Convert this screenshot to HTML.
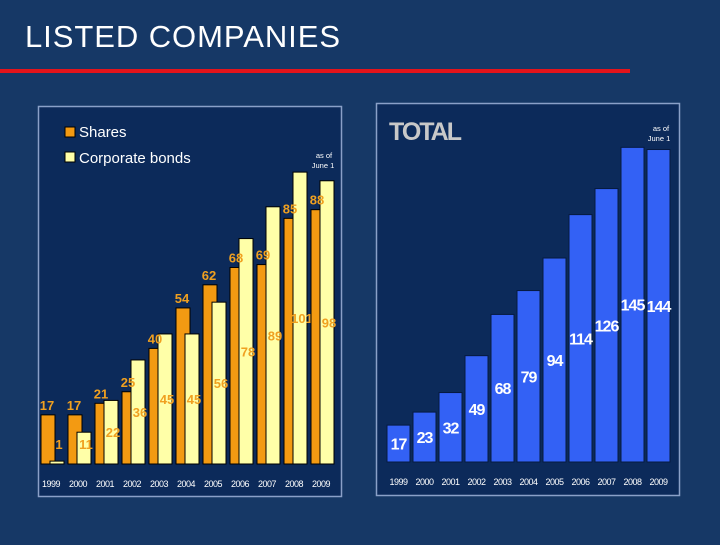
<!DOCTYPE html>
<html><head><meta charset="utf-8"><style>
body{margin:0;background:#163866;width:720px;height:540px;overflow:hidden;font-family:"Liberation Sans",sans-serif}
</style></head><body>
<svg width="720" height="540">
<rect width="720" height="540" fill="#163866"/>
<text x="25" y="47" fill="#fff" font-size="31" textLength="315" font-family="Liberation Sans">LISTED COMPANIES</text>
<rect x="0" y="69" width="630" height="4" fill="#e3141b"/>
<rect x="38.5" y="106.5" width="303" height="390" fill="#0c2a5a" stroke="#8aa0c8" stroke-width="1.5"/>
<rect x="376.5" y="103.5" width="303" height="392" fill="#0c2a5a" stroke="#8aa0c8" stroke-width="1.5"/>
<g id="left"></g>
<g id="right"></g>
<rect x="65" y="127" width="10" height="10" fill="#f39a12" stroke="#000"/>
<text x="79" y="137" fill="#fff" font-size="15">Shares</text>
<rect x="65" y="152" width="10" height="10" fill="#ffffa8" stroke="#000"/>
<text x="79" y="163" fill="#fff" font-size="15">Corporate bonds</text>
<text x="324" y="158" fill="#fff" font-size="7.5" text-anchor="middle"><tspan x="324">as of</tspan><tspan x="323" dy="10">June 1</tspan></text>
<text x="389" y="140" fill="#c8c8c8" font-size="25" font-weight="bold" letter-spacing="-2">TOTAL</text>
<text x="661" y="131" fill="#fff" font-size="7.5" text-anchor="middle"><tspan x="661">as of</tspan><tspan x="659" dy="10">June 1</tspan></text>
</svg>
<script>
const years=['1999','2000','2001','2002','2003','2004','2005','2006','2007','2008','2009'];
const shares=[17,17,21,25,40,54,62,68,69,85,88];
const bonds=[1,11,22,36,45,45,56,78,89,101,98];
const totals=[17,23,32,49,68,79,94,114,126,145,144];
const NS='http://www.w3.org/2000/svg';
function mk(p,t,a){const e=document.createElementNS(NS,t);for(const k in a)e.setAttribute(k,a[k]);p.appendChild(e);return e;}
const L=document.getElementById('left'),R=document.getElementById('right');
const lBase=464,lK=2.89,lx=i=>41+27*i;
const rBase=462,rK=2.17,rx=i=>387+26*i;
years.forEach((y,i)=>{
 const hs=shares[i]*lK;
 const s=mk(L,'rect',{x:lx(i),y:lBase-hs,width:14,height:hs,fill:'#f39a12',stroke:'#000','stroke-width':1});
 
 
 const hb=bonds[i]*lK;
 const b=mk(L,'rect',{x:lx(i)+9,y:lBase-hb,width:14,height:hb,fill:'#ffffa8',stroke:'#000','stroke-width':1});
 
 
 const ts=mk(L,'text',{x:lx(i)+6,y:lBase-hs-5,fill:'#f0a020','font-size':13,'font-weight':'bold','text-anchor':'middle'});
 ts.textContent=shares[i];
 
 
 const tb=mk(L,'text',{x:lx(i)+18,y:lBase-Math.max(hb*0.5,20)+5,fill:'#f0a020','font-size':13,'font-weight':'bold','text-anchor':'middle'});
 tb.textContent=bonds[i];
 
 
 const ty=mk(L,'text',{x:lx(i)+10,y:487,fill:'#fff','font-size':9,'text-anchor':'middle','letter-spacing':'-0.5'});
 ty.textContent=y;
 
 
 const ht=totals[i]*rK;
 const r=mk(R,'rect',{x:rx(i),y:rBase-ht,width:23,height:ht,fill:'#3361f5',stroke:'#061a40','stroke-width':1});
 
 
 const tt=mk(R,'text',{x:rx(i)+11.5,y:rBase-ht*0.5+6,fill:'#fff','font-size':16,'font-weight':'bold','text-anchor':'middle','letter-spacing':'-1'});
 tt.textContent=totals[i];
 
 
 const ry=mk(R,'text',{x:rx(i)+11.5,y:485,fill:'#fff','font-size':9,'text-anchor':'middle','letter-spacing':'-0.5'});
 ry.textContent=y;
 
 
});
</script>
</body></html>
